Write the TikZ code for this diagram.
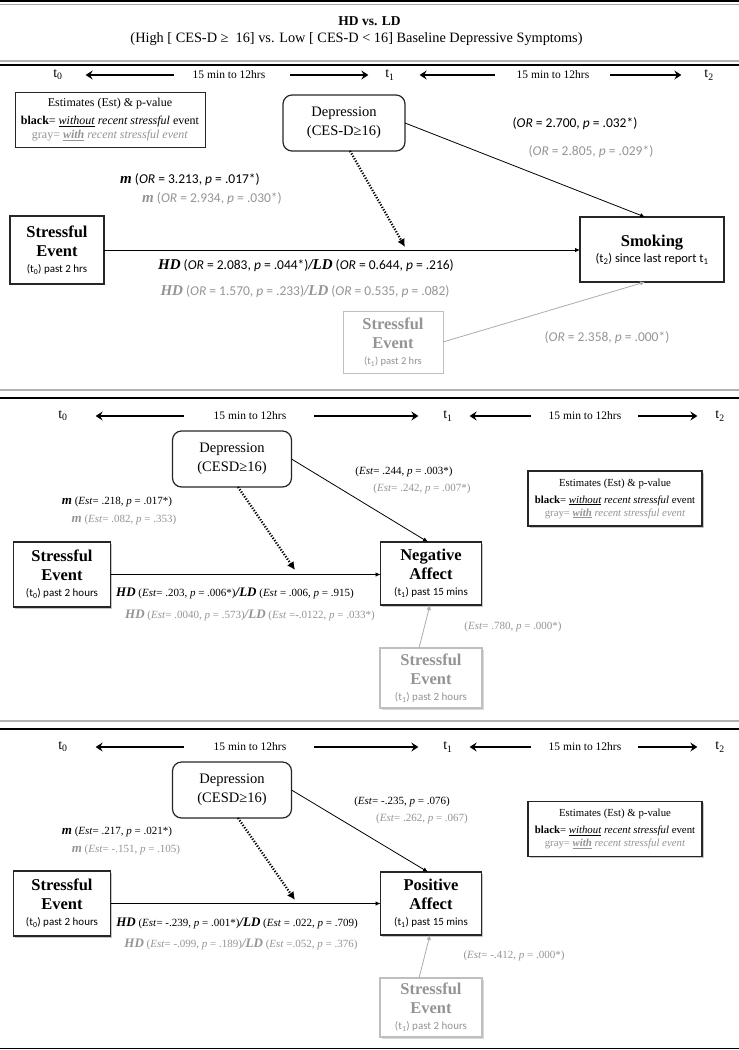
\documentclass[tikz,border=0pt]{standalone}
\usepackage{fontspec}
\setmainfont{Liberation Serif}
\newfontfamily\calib{Carlito}
\usetikzlibrary{arrows.meta,shadows}
\definecolor{lgray}{gray}{0.58}
\newcommand{\bv}[1]{{\rmfamily\bfseries\itshape\fontsize{15}{15}\selectfont #1}}
\newcommand{\bw}[1]{{\rmfamily\bfseries\itshape\fontsize{13}{13}\selectfont #1}}
\newcommand{\when}[2][11]{{\mdseries\calib\fontsize{#1}{12}\selectfont #2}}
\newcommand{\keytext}{Estimates (Est) \& p-value\\[4pt]
  \textbf{black}= \underline{\textit{without}} \textit{recent stressful} event\\
  \textcolor{lgray}{gray= \underline{\textbf{\textit{with}}} \textit{recent stressful event}}}

\begin{document}
\begin{tikzpicture}[x=1pt,y=-1pt,
  every node/.style={inner sep=0pt,outer sep=0pt},
  box/.style={draw=black!85,line width=1.1pt,fill=white,align=center},
  big/.style={font=\bfseries\fontsize{16.5}{19}\selectfont},
  sbox/.style={box,line width=1.7pt,drop shadow={shadow xshift=1.8pt,shadow yshift=-1.8pt,opacity=0.45}},
  gbox/.style={draw=gray!50,line width=1pt,fill=white,align=center,text=lgray},
  sgbox/.style={gbox,line width=1.4pt,drop shadow={shadow xshift=1.8pt,shadow yshift=-1.8pt,opacity=0.3}},
  dep/.style={box,rounded corners=9pt,line width=1.2pt,font=\fontsize{14.5}{19}\selectfont},
  key/.style={box,line width=0.9pt,font=\fontsize{12}{14}\selectfont},
  arr/.style={-{Latex[length=5pt,width=4.5pt]},line width=0.8pt},
  garr/.style={arr,draw=gray!65},
  modarr/.style={-{Latex[length=8pt,width=8pt]},line width=2.3pt,dash pattern=on 1.2pt off 1.6pt},
  tarr/.style={-{Stealth[length=7pt,width=9pt,inset=2.5pt]},line width=1.1pt},
  tlab/.style={font=\fontsize{14}{14}\selectfont},
  span/.style={font=\fontsize{11.5}{12}\selectfont},
  stat/.style={font=\calib\fontsize{13.5}{15}\selectfont},
  gstat/.style={stat,text=lgray},
  est/.style={font=\fontsize{11}{13}\selectfont},
  gest/.style={est,text=lgray}]
\useasboundingbox (0,0) rectangle (739,1050);

\draw[line width=1.2pt] (0,1) -- (739,1);
\draw[line width=1pt,gray!70] (0,4.5) -- (739,4.5);
\draw[line width=1.4pt,gray!60] (0,61) -- (739,61);
\draw[line width=1.1pt] (0,65) -- (739,65);
\draw[line width=1.6pt,gray!60] (0,390) -- (739,390);
\draw[line width=1.1pt] (0,398) -- (739,398);
\draw[line width=1.6pt,gray!60] (0,721) -- (739,721);
\draw[line width=1.1pt] (0,729) -- (739,729);
\draw[line width=1.6pt] (0,1048.5) -- (739,1048.5);

\node[font=\bfseries\fontsize{13.5}{14}\selectfont] (title) at (369.5,21) {HD vs. LD};
\node[font=\fontsize{14.3}{15}\selectfont] (subtitle) at (356.5,39) {(High [ CES-D ≥~ 16] vs. Low [ CES-D < 16] Baseline Depressive Symptoms)};

\node[tlab] (T0a) at (58,75) {t\textsubscript{0}};
\node[span] (S1a) at (229,75) {15 min to 12hrs};
\node[tlab] (T1a) at (390,75) {t\textsubscript{1}};
\node[span] (S2a) at (553,75) {15 min to 12hrs};
\node[tlab] (T2a) at (709,75) {t\textsubscript{2}};
\draw[tarr,shorten <=19pt,shorten >=23pt] (S1a.west) -- (S1a.west -| T0a.east);
\draw[tarr,shorten <=25pt,shorten >=17pt] (S1a.east) -- (S1a.east -| T1a.west);
\draw[tarr,shorten <=22pt,shorten >=25pt] (S2a.west) -- (S2a.west -| T1a.east);
\draw[tarr,shorten <=21pt,shorten >=23pt] (S2a.east) -- (S2a.east -| T2a.west);

\node[key,minimum width=190,minimum height=55] (K1) at (110,120) {\keytext};
\node[dep,minimum width=122,minimum height=56] (D1) at (344,123) {Depression\\(CES-D≥16)};
\node[box,big,minimum width=94,minimum height=68] (SE1) at (57,250) {Stressful\\Event\\[-3pt]\when{(t\textsubscript{0}) past 2 hrs}};
\node[box,big,minimum width=144,minimum height=65] (SM) at (652,249.5) {Smoking\\[-3pt]\when[12.5]{(t\textsubscript{2}) since last report t\textsubscript{1}}};
\node[gbox,big,minimum width=100,minimum height=62] (SE1b) at (393,342) {Stressful\\Event\\[-3pt]\when[10.5]{(t\textsubscript{1}) past 2 hrs}};
\coordinate (M1) at (405,247);

\draw[arr] (D1.east) -- ([xshift=-7pt]SM.north);
\draw[modarr] ([xshift=6pt]D1.south) -- (M1);
\draw[arr] (SE1.east) -- (SE1.east -| SM.west);
\draw[garr] (SE1b.east) -- ([xshift=-7pt]SM.south);

\node[stat] (a1) at (575,124) {(\textit{OR} = 2.700, \textit{p} = .032*)};
\node[gstat] (a2) at (591,152) {(\textit{OR} = 2.805, \textit{p} = .029*)};
\node[stat] (m1) at (190,180) {\bv{m} (\textit{OR} = 3.213, \textit{p} = .017*)};
\node[gstat] (m2) at (212,199) {\bv{m} (\textit{OR} = 2.934, \textit{p} = .030*)};
\node[stat] (h1) at (306,266) {\bv{HD} (\textit{OR} = 2.083, \textit{p} = .044*)\bv{/LD} (\textit{OR} = 0.644, \textit{p} = .216)};
\node[gstat] (h2) at (305,292) {\bv{HD} (\textit{OR} = 1.570, \textit{p} = .233)\bv{/LD} (\textit{OR} = 0.535, \textit{p} = .082)};
\node[gstat] (g1) at (607,338) {(\textit{OR} = 2.358, \textit{p} = .000*)};

\node[tlab] (T0b) at (63,416) {t\textsubscript{0}};
\node[span] (S1b) at (250,416) {15 min to 12hrs};
\node[tlab] (T1b) at (448,416) {t\textsubscript{1}};
\node[span] (S2b) at (585,416) {15 min to 12hrs};
\node[tlab] (T2b) at (720,416) {t\textsubscript{2}};
\draw[tarr,shorten <=30pt,shorten >=28pt] (S1b.west) -- (S1b.west -| T0b.east);
\draw[tarr,shorten <=28pt,shorten >=25pt] (S1b.east) -- (S1b.east -| T1b.west);
\draw[tarr,shorten <=18pt,shorten >=17pt] (S2b.west) -- (S2b.west -| T1b.east);
\draw[tarr,shorten <=17pt,shorten >=18pt] (S2b.east) -- (S2b.east -| T2b.west);

\node[dep,minimum width=119,minimum height=56] (D2) at (232,459) {Depression\\(CESD≥16)};
\node[key,sbox,line width=1.2pt,minimum width=174,minimum height=55,font=\fontsize{10.8}{13}\selectfont] (K2) at (615,498.5) {\keytext};
\node[sbox,big,minimum width=97,minimum height=65] (SE2) at (62,574.5) {Stressful\\Event\\[-3pt]\when{(t\textsubscript{0}) past 2 hours}};
\node[sbox,big,minimum width=101,minimum height=63] (NA) at (431,573.5) {Negative\\Affect\\[-3pt]\when{(t\textsubscript{1}) past 15 mins}};
\node[sgbox,big,minimum width=102,minimum height=60] (SE2b) at (431,678) {Stressful\\Event\\[-3pt]\when{(t\textsubscript{1}) past 2 hours}};
\coordinate (M2) at (295,570);

\draw[arr] (D2.east) -- ([xshift=-3pt]NA.north);
\draw[modarr] ([xshift=6pt]D2.south) -- (M2);
\draw[arr] (SE2.east) -- (SE2.east -| NA.west);
\draw[garr] ([xshift=-12pt]SE2b.north) -- ([xshift=-1pt]NA.south);

\node[est] (b1) at (404,472) {(\textit{Est}= .244, \textit{p} = .003*)};
\node[gest] (b2) at (422,489) {(\textit{Est}= .242, \textit{p} = .007*)};
\node[est] (n1) at (117,502) {\bw{m} (\textit{Est}= .218, \textit{p} = .017*)};
\node[gest] (n2) at (124,520) {\bw{m} (\textit{Est}= .082, \textit{p} = .353)};
\node[est] (k1) at (235,593) {\bw{HD} (\textit{Est}= .203, \textit{p} = .006*)\bw{/LD} (\textit{Est} = .006, \textit{p} = .915)};
\node[gest] (k2) at (250,615) {\bw{HD} (\textit{Est}= .0040, \textit{p} = .573)\bw{/LD} (\textit{Est} =-.0122, \textit{p} = .033*)};
\node[gest] (r1) at (513,627) {(\textit{Est}= .780, \textit{p} = .000*)};

\node[tlab] (T0c) at (63,747) {t\textsubscript{0}};
\node[span] (S1c) at (250,747) {15 min to 12hrs};
\node[tlab] (T1c) at (448,747) {t\textsubscript{1}};
\node[span] (S2c) at (585,747) {15 min to 12hrs};
\node[tlab] (T2c) at (720,747) {t\textsubscript{2}};
\draw[tarr,shorten <=30pt,shorten >=28pt] (S1c.west) -- (S1c.west -| T0c.east);
\draw[tarr,shorten <=28pt,shorten >=25pt] (S1c.east) -- (S1c.east -| T1c.west);
\draw[tarr,shorten <=18pt,shorten >=17pt] (S2c.west) -- (S2c.west -| T1c.east);
\draw[tarr,shorten <=17pt,shorten >=18pt] (S2c.east) -- (S2c.east -| T2c.west);

\node[dep,minimum width=119,minimum height=56] (D3) at (232,790) {Depression\\(CESD≥16)};
\node[key,sbox,line width=1.2pt,minimum width=174,minimum height=55,font=\fontsize{10.8}{13}\selectfont] (K3) at (615,829) {\keytext};
\node[sbox,big,minimum width=97,minimum height=65] (SE3) at (62,903.5) {Stressful\\Event\\[-3pt]\when{(t\textsubscript{0}) past 2 hours}};
\node[sbox,big,minimum width=101,minimum height=63] (PA) at (431,903.5) {Positive\\Affect\\[-3pt]\when{(t\textsubscript{1}) past 15 mins}};
\node[sgbox,big,minimum width=102,minimum height=59] (SE3b) at (431,1007.5) {Stressful\\Event\\[-3pt]\when{(t\textsubscript{1}) past 2 hours}};
\coordinate (M3) at (295,900);

\draw[arr] (D3.east) -- ([xshift=-3pt]PA.north);
\draw[modarr] ([xshift=6pt]D3.south) -- (M3);
\draw[arr] (SE3.east) -- (SE3.east -| PA.west);
\draw[garr] ([xshift=-12pt]SE3b.north) -- ([xshift=-1pt]PA.south);

\node[est] (c1) at (402,802) {(\textit{Est}= -.235, \textit{p} = .076)};
\node[gest] (c2) at (422,819) {(\textit{Est}= .262, \textit{p} = .067)};
\node[est] (q1) at (117,832) {\bw{m} (\textit{Est}= .217, \textit{p} = .021*)};
\node[gest] (q2) at (126,850) {\bw{m} (\textit{Est}= -.151, \textit{p} = .105)};
\node[est] (j1) at (237,923) {\bw{HD} (\textit{Est}= -.239, \textit{p} = .001*)\bw{/LD} (\textit{Est} = .022, \textit{p} = .709)};
\node[gest] (j2) at (241,944) {\bw{HD} (\textit{Est}= -.099, \textit{p} = .189)\bw{/LD} (\textit{Est} =.052, \textit{p} = .376)};
\node[gest] (s1) at (514,956) {(\textit{Est}= -.412, \textit{p} = .000*)};
\end{tikzpicture}
\end{document}
